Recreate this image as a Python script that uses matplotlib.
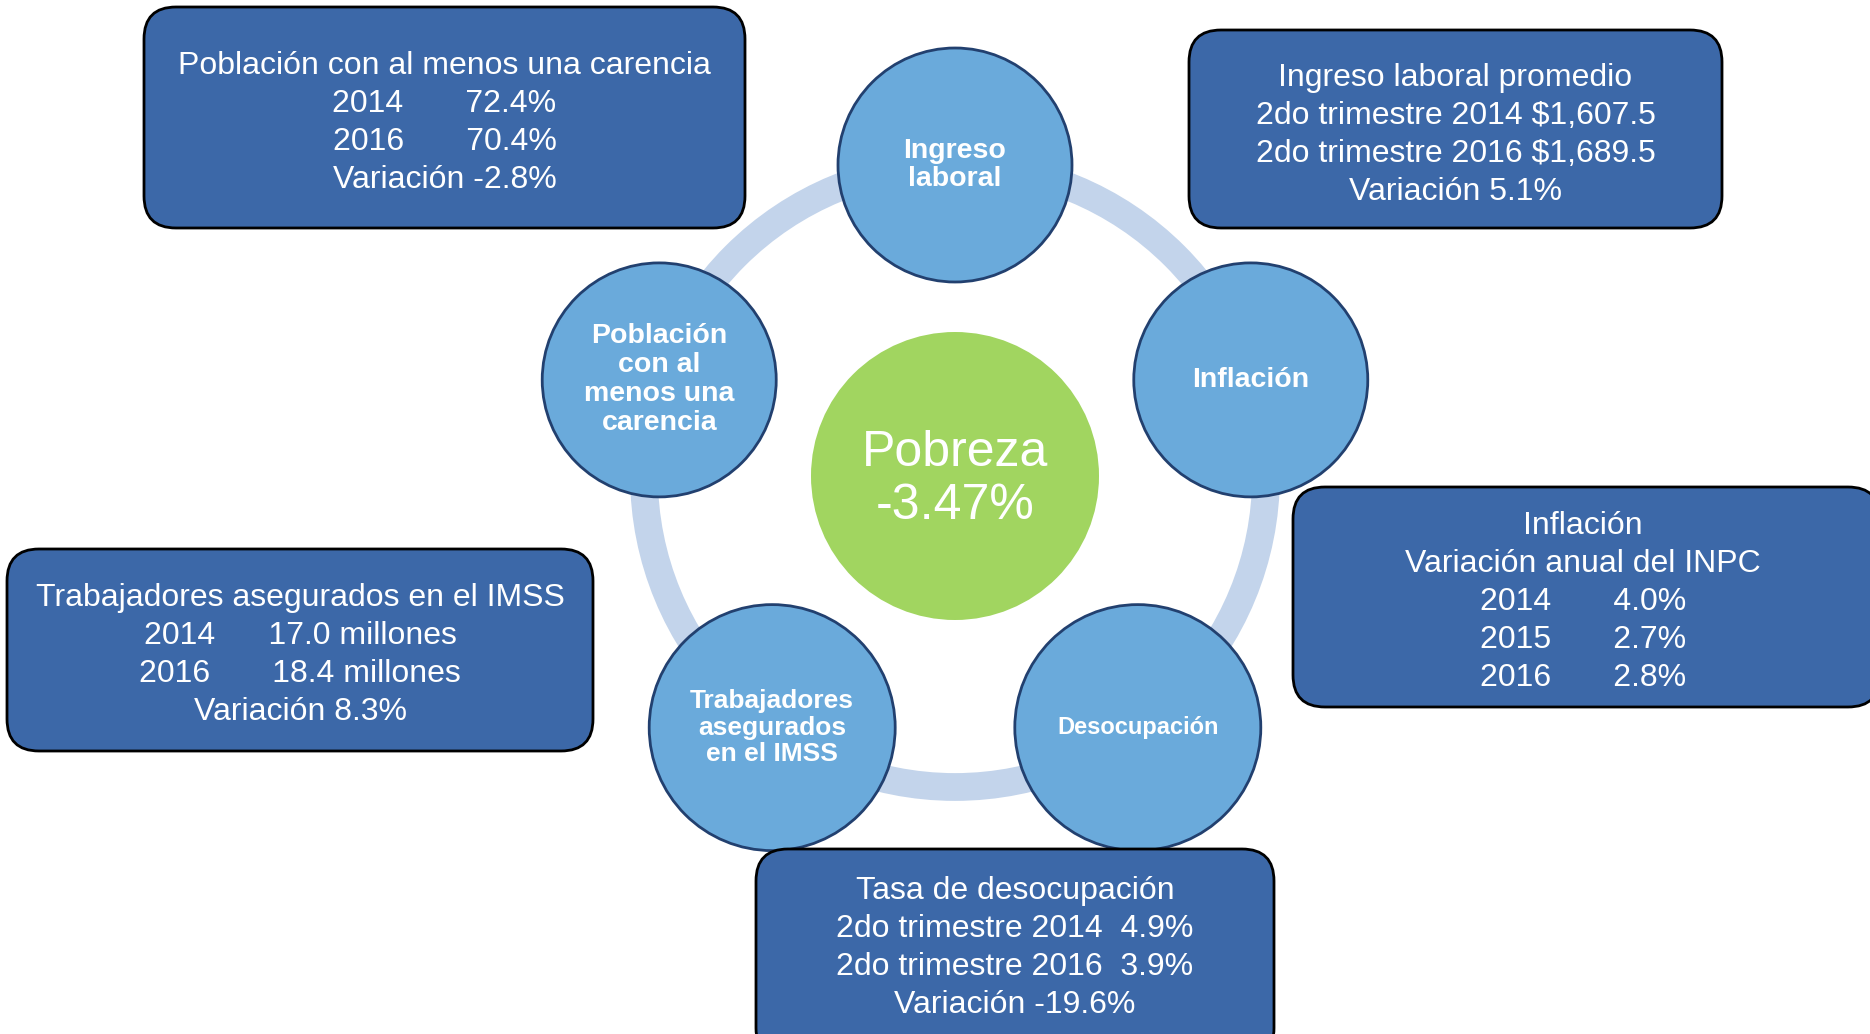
import numpy as np
import matplotlib.pyplot as plt
from matplotlib.patches import Circle, FancyBboxPatch

plt.rcParams['font.family'] = ['Liberation Sans', 'DejaVu Sans']

# --- content ---
centre_title = "Pobreza"
centre_value = "-3.47%"

node_labels = ["Ingreso\nlaboral", "Inflación", "Desocupación",
               "Trabajadores\nasegurados\nen el IMSS",
               "Población\ncon al\nmenos una\ncarencia"]
node_fontsizes = [20.5, 20.5, 17, 19, 20.5]
node_radius = [117, 117, 123, 123, 117]

box_poblacion = ["Población con al menos una carencia",
                 "2014       72.4%",
                 "2016       70.4%",
                 "Variación -2.8%"]
box_ingreso = ["Ingreso laboral promedio",
               "2do trimestre 2014 $1,607.5",
               "2do trimestre 2016 $1,689.5",
               "Variación 5.1%"]
box_inflacion = ["Inflación",
                 "Variación anual del INPC",
                 "2014       4.0%",
                 "2015       2.7%",
                 "2016       2.8%"]
box_imss = ["Trabajadores asegurados en el IMSS",
            "2014      17.0 millones",
            "2016       18.4 millones",
            "Variación 8.3%"]
box_desocupacion = ["Tasa de desocupación",
                    "2do trimestre 2014  4.9%",
                    "2do trimestre 2016  3.9%",
                    "Variación -19.6%"]

# colours
ring_col = '#C3D4EB'
node_col = '#6AAADB'
node_edge = '#22406F'
green = '#A1D560'
box_col = '#3C68A8'

W, H = 1870, 1034
fig = plt.figure(figsize=(W / 100, H / 100), dpi=100)
ax = fig.add_axes([0, 0, 1, 1])
ax.set_xlim(0, W)
ax.set_ylim(H, 0)
ax.axis('off')

cx, cy, R = 955, 476, 311

# ring
ax.add_patch(Circle((cx, cy), R, fill=False, ec=ring_col, lw=20, zorder=1))

# centre circle
ax.add_patch(Circle((cx, cy), 144, fc=green, ec='none', zorder=2))
ax.text(cx, 453, centre_title, color='white', fontsize=36, ha='center', va='center', zorder=3)
ax.text(cx, 506, centre_value, color='white', fontsize=36, ha='center', va='center', zorder=3)

# satellite circles
angles = np.deg2rad(90 - 72 * np.arange(5))
for lab, fs, r, a in zip(node_labels, node_fontsizes, node_radius, angles):
    x = cx + R * np.cos(a)
    y = cy - R * np.sin(a)
    ax.add_patch(Circle((x, y), r, fc=node_col, ec=node_edge, lw=2, zorder=4))
    ax.text(x, y, lab, color='white', fontsize=fs, fontweight='bold',
            ha='center', va='center', linespacing=1.15, zorder=5)

# info boxes: (lines, x0, y0, x1, y1, first line offset)
boxes = [
    (box_poblacion, 144, 7, 745, 228, 59),
    (box_ingreso, 1189, 30, 1722, 228, 48),
    (box_inflacion, 1293, 487, 1880, 707, 39),
    (box_imss, 7, 549, 593, 751, 49),
    (box_desocupacion, 756, 849, 1274, 1060, 42),
]
for lines, x0, y0, x1, y1, off in boxes:
    ax.add_patch(FancyBboxPatch((x0, y0), x1 - x0, y1 - y0,
                                boxstyle='round,pad=0,rounding_size=32',
                                fc=box_col, ec='black', lw=2, zorder=6))
    xm = (x0 + min(x1, 1873)) / 2
    for i, line in enumerate(lines):
        ax.text(xm, y0 + off + 38 * i, line, color='white', fontsize=23,
                ha='center', va='center', zorder=7)

plt.savefig('out.png', dpi=100)
